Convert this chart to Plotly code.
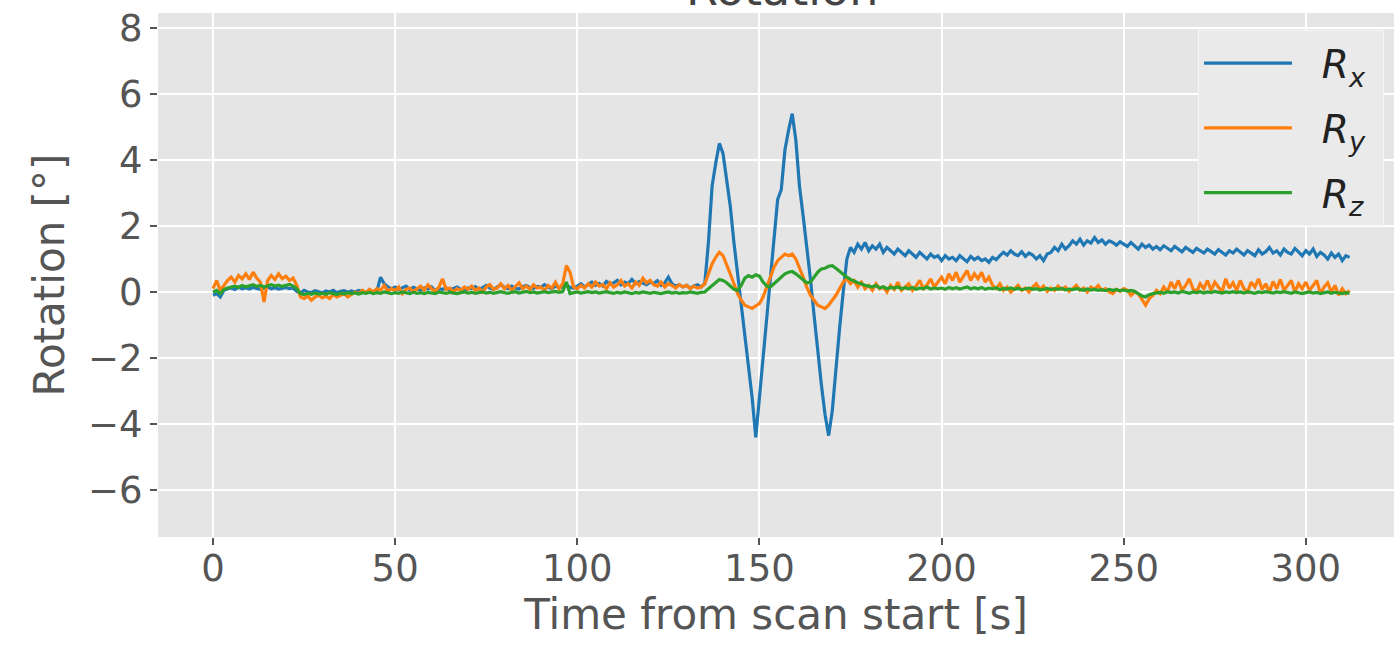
import numpy as np
import plotly.graph_objects as go

# sample times (1 s spacing, 0..312 s)
time_s = list(range(0, 313))

rot_x = [
    -0.10, -0.05, -0.15, 0.05, 0.10, 0.12, 0.08, 0.15, 0.10, 0.13,
    0.09, 0.14, 0.11, 0.08, 0.12, 0.15, 0.10, 0.13, 0.09, 0.12,
    0.14, 0.10, 0.12, 0.02, -0.03, 0.05, 0.00, -0.02, 0.04, 0.01,
    -0.03, 0.03, 0.00, 0.05, -0.02, 0.02, 0.04, -0.01, 0.03, 0.00,
    0.05, 0.02, -0.02, 0.04, 0.01, 0.03, 0.45, 0.25, 0.15, 0.10,
    0.15, 0.08, 0.12, 0.18, 0.06, 0.14, 0.10, 0.05, 0.12, 0.09,
    0.15, 0.04, 0.10, 0.08, 0.13, 0.06, 0.11, 0.15, 0.08, 0.05,
    0.12, 0.10, 0.16, 0.09, 0.13, 0.20, 0.12, 0.08, 0.15, 0.22,
    0.14, 0.10, 0.18, 0.12, 0.09, 0.16, 0.20, 0.13, 0.11, 0.17,
    0.14, 0.22, 0.15, 0.10, 0.18, 0.13, 0.16, 0.20, 0.14, 0.12,
    0.18, 0.25, 0.15, 0.22, 0.30, 0.20, 0.26, 0.18, 0.32, 0.24,
    0.28, 0.35, 0.22, 0.30, 0.26, 0.38, 0.25, 0.32, 0.28, 0.22,
    0.30, 0.26, 0.34, 0.20, 0.28, 0.45, 0.25, 0.18, 0.22, 0.15,
    0.20, 0.12, 0.18, 0.22, 0.15, 0.25, 1.50, 3.20, 3.90, 4.50,
    4.20, 3.40, 2.60, 1.50, 0.60, -0.40, -1.20, -2.20, -3.20, -4.40,
    -3.20, -2.00, -0.90, 0.20, 1.60, 2.80, 3.10, 4.30, 4.90, 5.40,
    4.60, 3.20, 2.30, 1.40, 0.40, -0.70, -1.80, -2.80, -3.70, -4.35,
    -3.60, -2.30, -1.10, 0.00, 1.00, 1.35, 1.20, 1.45, 1.30, 1.50,
    1.25, 1.40, 1.30, 1.45, 1.20, 1.35, 1.25, 1.15, 1.30, 1.20,
    1.10, 1.25, 1.15, 1.05, 1.20, 1.10, 1.00, 1.15, 1.05, 1.10,
    0.95, 1.10, 1.00, 1.05, 0.95, 1.10, 1.00, 0.92, 1.08, 0.98,
    1.05, 0.95, 1.00, 0.90, 1.05, 0.98, 1.10, 1.20, 1.12, 1.25,
    1.15, 1.10, 1.22, 1.08, 1.18, 1.12, 1.00, 1.10, 0.95, 1.15,
    1.20, 1.35, 1.25, 1.45, 1.30, 1.40, 1.55, 1.45, 1.60, 1.42,
    1.55, 1.48, 1.65, 1.50, 1.58, 1.45, 1.55, 1.50, 1.42, 1.52,
    1.45, 1.38, 1.50, 1.40, 1.30, 1.45, 1.35, 1.42, 1.30, 1.38,
    1.28, 1.40, 1.32, 1.25, 1.38, 1.30, 1.22, 1.35, 1.28, 1.20,
    1.32, 1.25, 1.18, 1.30, 1.22, 1.15, 1.28, 1.20, 1.12, 1.25,
    1.18, 1.30, 1.20, 1.12, 1.25, 1.18, 1.10, 1.28, 1.15, 1.22,
    1.35, 1.18, 1.25, 1.12, 1.30, 1.20, 1.15, 1.32, 1.22, 1.10,
    1.25, 1.15, 1.30, 1.08, 1.20, 1.12, 1.00, 1.18, 1.05, 1.15,
    0.95, 1.10, 1.05,
]

rot_y = [
    0.10, 0.35, 0.05, 0.20, 0.35, 0.45, 0.30, 0.50, 0.40, 0.55,
    0.38, 0.60, 0.42, 0.30, -0.30, 0.35, 0.50, 0.38, 0.55, 0.40,
    0.48, 0.35, 0.42, 0.20, -0.15, -0.20, -0.12, -0.25, -0.15, -0.10,
    -0.18, -0.12, -0.20, -0.08, -0.15, -0.10, -0.05, -0.15, -0.08, 0.00,
    -0.05, 0.05, -0.02, 0.08, 0.00, 0.10, 0.05, 0.20, 0.02, 0.10,
    0.05, 0.15, -0.05, 0.08, 0.12, 0.00, 0.10, 0.18, 0.05, 0.22,
    0.10, 0.02, 0.15, 0.40, 0.08, 0.12, 0.00, 0.10, 0.05, 0.15,
    0.08, 0.18, 0.05, 0.12, 0.00, 0.15, 0.22, 0.08, 0.12, 0.25,
    0.10, 0.20, 0.05, 0.15, 0.28, 0.10, 0.18, 0.08, 0.22, 0.12,
    0.15, 0.05, 0.20, 0.12, 0.30, 0.10, 0.25, 0.80, 0.60, 0.15,
    0.10, 0.20, 0.12, 0.25, 0.15, 0.30, 0.18, 0.22, 0.10, 0.28,
    0.15, 0.22, 0.35, 0.18, 0.25, 0.12, 0.30, 0.20, 0.42, 0.28,
    0.35, 0.22, 0.18, 0.30, 0.15, 0.25, 0.20, 0.12, 0.22, 0.15,
    0.20, 0.10, 0.18, 0.12, 0.15, 0.25, 0.55, 0.85, 1.05, 1.20,
    1.10, 0.85, 0.55, 0.25, -0.05, -0.25, -0.40, -0.45, -0.50, -0.42,
    -0.35, -0.15, 0.15, 0.45, 0.75, 0.95, 1.05, 1.15, 1.10, 1.15,
    1.00, 0.75, 0.45, 0.15, -0.10, -0.25, -0.40, -0.45, -0.50, -0.40,
    -0.25, -0.10, 0.10, 0.30, 0.40, 0.25, 0.35, 0.15, 0.30, 0.10,
    0.20, 0.05, 0.25, 0.10, 0.15, 0.00, 0.20, 0.08, 0.30, 0.05,
    0.15, 0.25, 0.05, 0.18, 0.35, 0.10, 0.22, 0.40, 0.15, 0.30,
    0.45, 0.25, 0.55, 0.35, 0.60, 0.30, 0.50, 0.65, 0.35, 0.55,
    0.40, 0.60, 0.30, 0.45, 0.20, 0.10, 0.25, 0.05, 0.15, 0.00,
    0.10, 0.20, 0.05, 0.12, 0.00, 0.15, 0.25, 0.08, 0.18, 0.02,
    0.12, 0.05, 0.18, 0.08, 0.15, 0.02, 0.10, 0.20, 0.05, 0.12,
    0.00, 0.15, 0.08, 0.20, 0.05, 0.10, 0.00, -0.05, 0.08, 0.02,
    0.10, 0.05, -0.10, 0.00, -0.05, -0.25, -0.40, -0.20, -0.10, 0.05,
    -0.05, 0.15, 0.00, 0.30, 0.10, 0.35, 0.05, 0.20, 0.40, 0.10,
    0.00, 0.25, 0.10, 0.35, 0.05, 0.30, 0.15, 0.00, 0.40, 0.12,
    0.28, 0.05, 0.35, 0.10, 0.00, 0.30, 0.15, 0.40, 0.08, 0.25,
    0.00, 0.32, 0.10, 0.38, 0.05, 0.20, 0.35, 0.00, 0.25, 0.10,
    0.30, 0.05, 0.20, 0.35, -0.05, 0.15, 0.28, 0.00, 0.20, -0.10,
    0.10, -0.05, 0.05,
]

rot_z = [
    0.00, 0.05, -0.05, 0.08, 0.12, 0.15, 0.18, 0.14, 0.20, 0.16,
    0.18, 0.22, 0.17, 0.20, 0.15, 0.19, 0.22, 0.18, 0.21, 0.17,
    0.20, 0.23, 0.18, 0.10, -0.05, -0.08, -0.04, -0.07, -0.03, -0.06,
    -0.04, -0.07, -0.02, -0.05, -0.08, -0.03, -0.06, -0.02, -0.05, -0.03,
    -0.06, -0.02, -0.04, -0.01, -0.05, -0.02, -0.04, 0.00, -0.03, -0.05,
    -0.02, -0.04, 0.00, -0.03, -0.05, -0.01, -0.04, -0.02, -0.05, -0.01,
    -0.03, -0.05, 0.00, -0.02, -0.04, -0.01, -0.03, -0.05, -0.02, 0.00,
    -0.03, -0.01, -0.04, -0.02, 0.00, -0.03, -0.01, -0.04, -0.02, 0.01,
    -0.02, -0.04, -0.01, 0.01, -0.03, -0.01, 0.02, -0.02, 0.00, -0.03,
    -0.01, 0.01, -0.02, 0.00, 0.02, -0.01, 0.01, 0.30, -0.05, -0.02,
    0.00, -0.03, -0.01, 0.01, -0.02, 0.00, -0.03, -0.01, 0.01, -0.02,
    -0.04, -0.01, -0.03, 0.00, -0.02, -0.05, -0.01, -0.03, 0.00, -0.02,
    -0.04, -0.01, -0.03, -0.05, -0.02, 0.00, -0.03, -0.01, -0.04, -0.02,
    -0.03, 0.00, -0.02, -0.04, -0.01, 0.00, 0.10, 0.20, 0.30, 0.38,
    0.35, 0.28, 0.18, 0.08, 0.05, 0.20, 0.42, 0.50, 0.45, 0.52,
    0.48, 0.30, 0.18, 0.15, 0.25, 0.35, 0.45, 0.55, 0.60, 0.62,
    0.55, 0.45, 0.35, 0.28, 0.30, 0.45, 0.60, 0.70, 0.72, 0.78,
    0.80, 0.72, 0.62, 0.55, 0.45, 0.38, 0.32, 0.28, 0.25, 0.20,
    0.18, 0.15, 0.20, 0.12, 0.16, 0.10, 0.14, 0.12, 0.15, 0.10,
    0.13, 0.10, 0.14, 0.08, 0.12, 0.10, 0.15, 0.09, 0.12, 0.10,
    0.12, 0.08, 0.14, 0.10, 0.13, 0.09, 0.12, 0.15, 0.10, 0.13,
    0.10, 0.14, 0.08, 0.12, 0.10, 0.13, 0.07, 0.11, 0.09, 0.12,
    0.08, 0.11, 0.07, 0.10, 0.12, 0.08, 0.10, 0.06, 0.09, 0.11,
    0.07, 0.10, 0.08, 0.11, 0.06, 0.09, 0.07, 0.10, 0.08, 0.05,
    0.09, 0.06, 0.08, 0.05, 0.07, 0.04, 0.08, 0.05, 0.07, 0.04,
    0.06, 0.03, 0.05, 0.02, -0.05, -0.12, -0.15, -0.08, -0.05, -0.03,
    -0.01, -0.04, 0.01, -0.02, 0.00, -0.03, 0.02, -0.01, -0.04, 0.00,
    -0.02, 0.01, -0.03, 0.00, -0.02, 0.02, -0.01, -0.03, 0.00, -0.02,
    0.01, -0.02, 0.00, -0.03, 0.01, -0.01, -0.04, 0.00, -0.02, 0.01,
    -0.01, -0.03, 0.00, -0.02, 0.01, -0.01, -0.04, 0.00, -0.02, -0.05,
    -0.02, 0.00, -0.03, -0.01, -0.05, -0.02, 0.00, -0.04, -0.01, -0.03,
    -0.05, -0.02, -0.04,
]

series_names = ["\u00a0\u00a0<i>R<sub>x</sub></i>\u00a0",
                "\u00a0\u00a0<i>R<sub>y</sub></i>\u00a0",
                "\u00a0\u00a0<i>R<sub>z</sub></i>\u00a0"]
series_colors = ["#1f77b4", "#ff7f0e", "#2ca02c"]

x_ticks = [0, 50, 100, 150, 200, 250, 300]
y_ticks = [-6, -4, -2, 0, 2, 4, 6, 8]
y_tick_text = [("\u2212" + str(-v)) if v < 0 else str(v) for v in y_ticks]

assert len(rot_x) == len(time_s) and len(rot_y) == len(time_s) and len(rot_z) == len(time_s)

FONT = "DejaVu Sans"
GRAY = "#555555"

fig = go.Figure()
for i, (name, vals, col) in enumerate(zip(series_names, [rot_x, rot_y, rot_z], series_colors)):
    fig.add_trace(go.Scatter(x=time_s, y=vals, mode="lines", name=name,
                             legendgroup="g%d" % i,
                             line=dict(color=col, width=3.2)))

L, R, T, B = 158, 0, 13, 109
W, H = 1394, 646

fig.update_layout(
    width=W, height=H,
    margin=dict(l=L, r=R, t=T, b=B, pad=0),
    paper_bgcolor="white",
    plot_bgcolor="#E5E5E5",
    font=dict(family=FONT, color=GRAY),
    showlegend=True,
    legend=dict(
        x=0.8414, y=0.967, xanchor="left", yanchor="top",
        bgcolor="#eaeaea", bordercolor="#f4f4f4", borderwidth=1,
        font=dict(family=FONT, size=39, color="#222222"),
        itemwidth=88, tracegroupgap=11,
    ),
    xaxis=dict(
        range=[-15.1, 324.2], tickvals=x_ticks,
        ticks="outside", ticklen=7, tickwidth=2, tickcolor=GRAY,
        tickfont=dict(family=FONT, size=37, color=GRAY),
        ticklabelstandoff=-8,
        showgrid=True, gridcolor="white", gridwidth=2,
        zeroline=False, showline=False, automargin=False,
        title=dict(text="Time from scan start [s]", standoff=10,
                   font=dict(family=FONT, size=42, color=GRAY)),
    ),
    yaxis=dict(
        range=[-7.42, 8.45], tickvals=y_ticks, ticktext=y_tick_text,
        ticks="outside", ticklen=7, tickwidth=2, tickcolor=GRAY,
        tickfont=dict(family=FONT, size=37, color=GRAY),
        showgrid=True, gridcolor="white", gridwidth=2,
        zeroline=False, showline=False, automargin=False,
        title=dict(text="Rotation [\u00b0]", standoff=10,
                   font=dict(family=FONT, size=42, color=GRAY)),
    ),
)

fig.add_annotation(
    text="Rotation", xref="paper", yref="paper", x=0.505, y=1.0,
    xanchor="center", yanchor="bottom", yshift=-5, showarrow=False,
    font=dict(family=FONT, size=46, color="#444444"),
)

fig.write_html(
    "out.html",
    config={"displayModeBar": False},
    post_script="document.body.style.margin='0';document.body.style.overflow='hidden';",
)
